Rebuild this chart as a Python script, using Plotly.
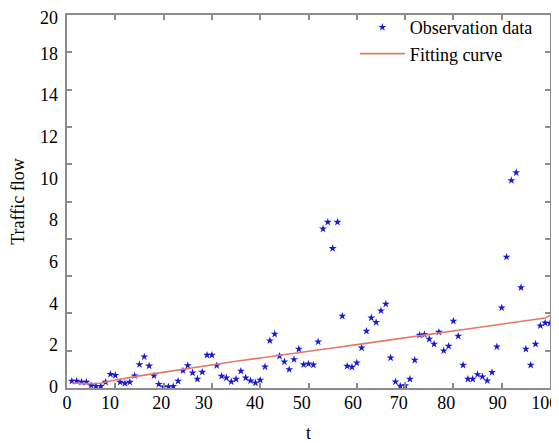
import plotly.graph_objects as go

# ---- data ----
t_obs = list(range(1, 101))
traffic_obs = [
    0.27, 0.27, 0.22, 0.22, 0.06, 0.02, 0.02, 0.22, 0.60, 0.55,
    0.22, 0.16, 0.22, 0.53, 1.07, 1.44, 1.00, 0.53, 0.12, 0.00,
    0.00, 0.02, 0.27, 0.77, 1.02, 0.67, 0.37, 0.70, 1.52, 1.52,
    1.02, 0.51, 0.43, 0.24, 0.37, 0.75, 0.43, 0.29, 0.19, 0.32,
    0.96, 2.21, 2.53, 1.47, 1.20, 0.83, 1.31, 1.81, 1.06, 1.10,
    1.05, 2.16, 7.58, 7.90, 6.64, 7.90, 3.39, 0.99, 0.94, 1.15,
    1.87, 2.67, 3.31, 3.09, 3.65, 3.97, 1.39, 0.24, 0.03, 0.06,
    0.37, 1.28, 2.48, 2.51, 2.29, 2.05, 2.62, 1.73, 1.95, 3.15,
    2.43, 1.04, 0.37, 0.37, 0.59, 0.48, 0.29, 0.69, 1.92, 3.79,
    6.23, 9.90, 10.28, 4.76, 1.81, 1.04, 2.05, 2.93, 3.07, 3.04,
]
t_fit = [1, 4, 7, 10, 15, 20, 25, 30, 35, 40, 45, 50, 55, 60, 65, 70, 75, 80, 85, 90, 95, 99, 100]
traffic_fit = [0.18, 0.15, 0.17, 0.32, 0.52, 0.70, 0.88, 1.05, 1.22, 1.38, 1.53, 1.70,
               1.86, 2.02, 2.18, 2.35, 2.52, 2.68, 2.84, 3.00, 3.16, 3.30, 3.42]

x_ticks = [0, 10, 20, 30, 40, 50, 60, 70, 80, 90, 100]
x_tick_text = ["0", "10", "20", "30", "40", "50", "60", "70", "80", "90", "100"]
# printed x labels sit slightly off their tick marks in the source figure
x_tick_label_at = [0, 8.9, 19.5, 28.3, 38.9, 48.6, 59.2, 68.7, 78.5, 89.2, 98.9]
# y tick labels as printed (the "16" label is absent in the source figure)
y_tick_text = ["0", "2", "4", "6", "8", "10", "12", "14", "18", "20"]
y_tick_label_at = [0, 2, 4, 6, 8, 10, 12, 14, 16, 17.72]

X_RANGE = [0, 100]
Y_RANGE = [-0.06, 17.84]
FONT = "Liberation Serif, Times New Roman, serif"
AXIS_GREY = "#8c8c8c"

fig = go.Figure()
fig.add_trace(go.Scatter(
    x=t_obs, y=traffic_obs, mode="markers", name="Observation data",
    marker=dict(symbol="star", size=6, color="#1a1ad2"),
))
fig.add_trace(go.Scatter(
    x=t_fit, y=traffic_fit, mode="lines", name="Fitting curve",
    line=dict(color="#e07a6a", width=1.6),
))
# helper trace so the label-only overlay axes are drawn
fig.add_trace(go.Scatter(x=[None], y=[None], xaxis="x2", yaxis="y2",
                         showlegend=False, hoverinfo="skip"))

# the page body has an 8px default margin, so the figure is sized 8px smaller
fig.update_layout(
    width=551, height=435,
    margin=dict(l=59, r=9, t=7, b=55, autoexpand=False),
    paper_bgcolor="white", plot_bgcolor="white",
    font=dict(family=FONT, size=18, color="black"),
    showlegend=True,
    legend=dict(x=0.596, y=1.016, xanchor="left", yanchor="top",
                bgcolor="rgba(0,0,0,0)", font=dict(size=18, family=FONT),
                tracegroupgap=0, itemwidth=45),
    xaxis=dict(
        range=X_RANGE, tickvals=x_ticks, ticks="inside", ticklen=5,
        tickcolor=AXIS_GREY, tickwidth=1.5, showticklabels=False,
        showline=True, linecolor=AXIS_GREY, linewidth=2, mirror="ticks",
        showgrid=False, zeroline=False, automargin=False,
    ),
    xaxis2=dict(
        overlaying="x", side="bottom", anchor="y2", range=X_RANGE,
        tickvals=x_tick_label_at, ticktext=x_tick_text, ticks="",
        showline=False, showgrid=False, zeroline=False, ticklabelstandoff=2,
        ticklabeloverflow="allow", automargin=False,
        tickfont=dict(size=18, family=FONT),
        title=dict(text="t", standoff=24, font=dict(size=18, family=FONT)),
    ),
    yaxis=dict(
        range=Y_RANGE, tick0=Y_RANGE[0], dtick=(Y_RANGE[1] - Y_RANGE[0]) / 10,
        ticks="inside", ticklen=5, tickcolor=AXIS_GREY, tickwidth=1.5,
        showticklabels=False, automargin=False,
        showline=True, linecolor=AXIS_GREY, linewidth=2, mirror="ticks",
        showgrid=False, zeroline=False,
        title=dict(text="Traffic flow", standoff=37, font=dict(size=18, family=FONT)),
    ),
    yaxis2=dict(
        overlaying="y", side="left", anchor="x2", range=Y_RANGE,
        tickvals=y_tick_label_at, ticktext=y_tick_text, ticks="",
        showline=False, showgrid=False, zeroline=False, ticklabelstandoff=8,
        ticklabeloverflow="allow", automargin=False,
        tickfont=dict(size=18, family=FONT),
    ),
)

fig.write_html("out.html")
